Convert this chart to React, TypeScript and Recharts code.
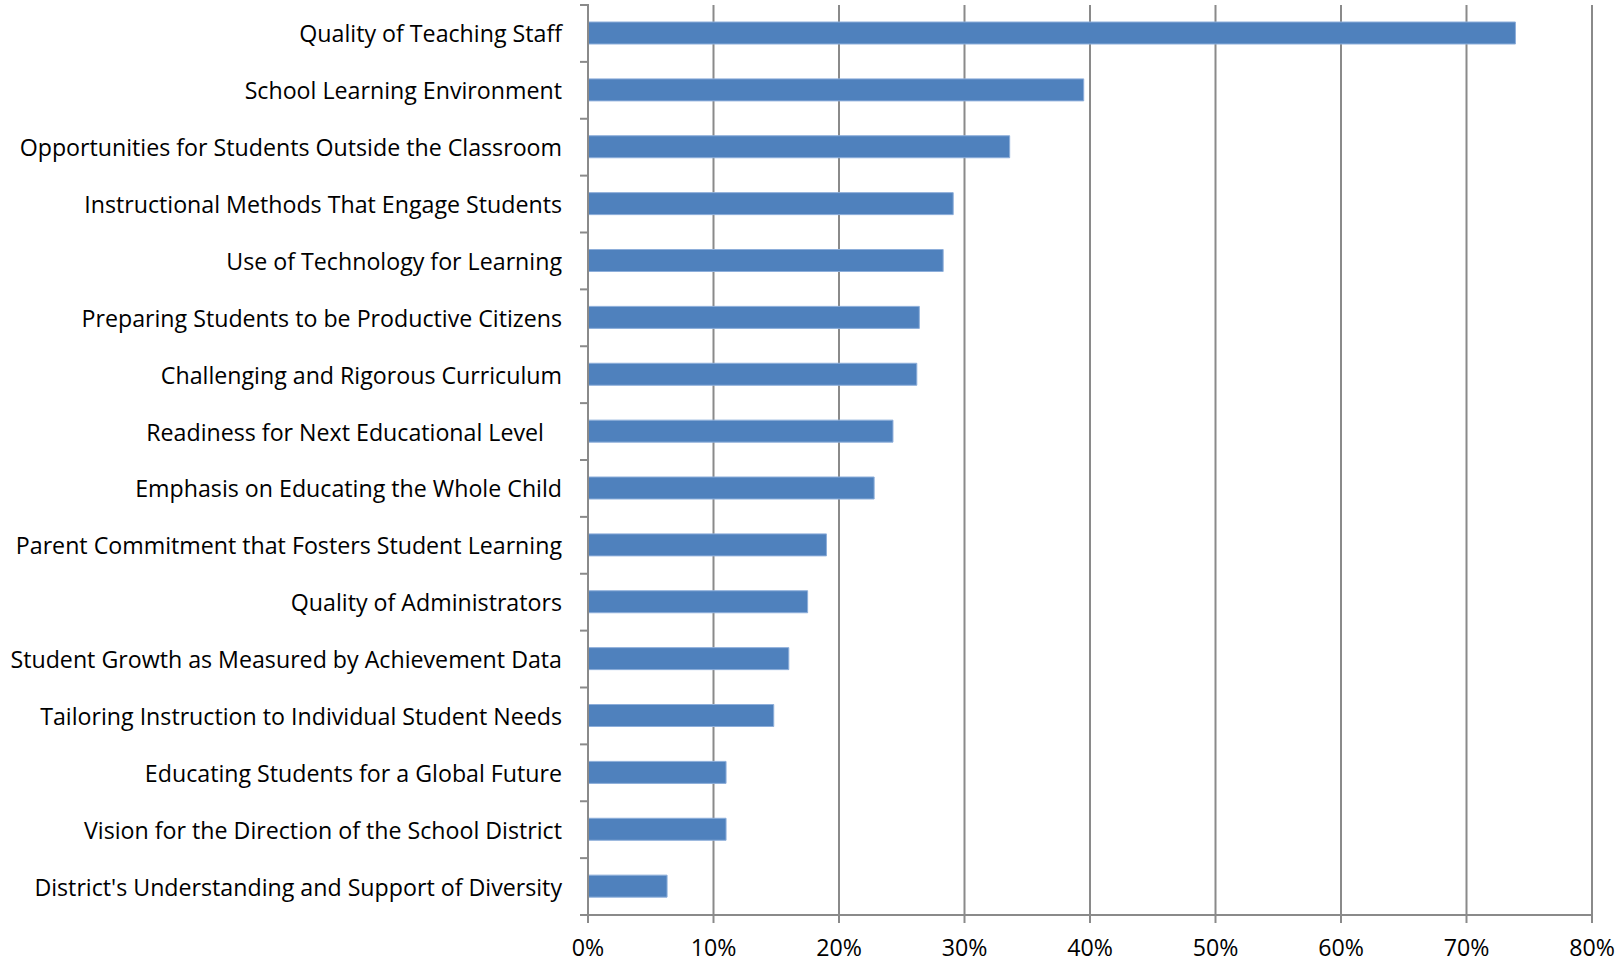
import React from 'react';
import { BarChart, Bar, XAxis, YAxis, CartesianGrid } from 'recharts';

const categories = [
  'Quality of Teaching Staff',
  'School Learning Environment',
  'Opportunities for Students Outside the Classroom',
  'Instructional Methods That Engage Students',
  'Use of Technology for Learning',
  'Preparing Students to be Productive Citizens',
  'Challenging and Rigorous Curriculum',
  'Readiness for Next Educational Level\u00A0\u00A0\u00A0',
  'Emphasis on Educating the Whole Child',
  'Parent Commitment that Fosters Student Learning',
  'Quality of Administrators',
  'Student Growth as Measured by Achievement Data',
  'Tailoring Instruction to Individual Student Needs',
  'Educating Students for a Global Future',
  'Vision for the Direction of the School District',
  "District's Understanding and Support of Diversity",
];

const values = [
  0.739, 0.395, 0.336, 0.291, 0.283, 0.264, 0.262, 0.243,
  0.228, 0.19, 0.175, 0.16, 0.148, 0.11, 0.11, 0.063,
];

const xTicks = [0, 0.1, 0.2, 0.3, 0.4, 0.5, 0.6, 0.7, 0.8];

const data = categories.map((name, i) => ({ name, value: values[i] }));

const GRAY = '#8a8a8a';
const FONT = "'Open Sans', sans-serif";
const FS = 23.2;

const YTick = (props: any) => {
  const { x, y, payload, index } = props;
  const half = typeof payload.offset === 'number' && payload.offset > 0 ? payload.offset : 28.4;
  const isLast = index === categories.length - 1;
  return (
    <g>
      <text
        x={x}
        y={y}
        textAnchor="end"
        dominantBaseline="central"
        fill="#000"
        fontFamily={FONT}
        fontSize={FS}
      >
        {payload.value}
      </text>
      <line x1={x + 18} x2={x + 27} y1={y - half} y2={y - half} stroke={GRAY} strokeWidth={2} />
      {isLast && (
        <line x1={x + 18} x2={x + 27} y1={y + half} y2={y + half} stroke={GRAY} strokeWidth={2} />
      )}
    </g>
  );
};

export default function App() {
  return (
    <div style={{ position: 'absolute', left: 0, top: 0, background: '#fff' }}>
      <BarChart
        width={1620}
        height={963}
        data={data}
        layout="vertical"
        margin={{ top: 5, right: 28, bottom: 0, left: 0 }}
      >
        <CartesianGrid horizontal={false} vertical={true} stroke={GRAY} strokeWidth={2} />
        <XAxis
          type="number"
          domain={[0, 0.8]}
          ticks={xTicks}
          interval={0}
          height={48}
          tickFormatter={(v: number) => `${Math.round(v * 100)}%`}
          axisLine={{ stroke: GRAY, strokeWidth: 2 }}
          tickLine={{ stroke: GRAY, strokeWidth: 2 }}
          tickSize={8}
          tickMargin={17}
          tick={{ fill: '#000', fontFamily: FONT, fontSize: FS }}
        />
        <YAxis
          type="category"
          dataKey="name"
          width={588}
          interval={0}
          axisLine={{ stroke: GRAY, strokeWidth: 2 }}
          tickLine={false}
          tickSize={8}
          tickMargin={18}
          tick={<YTick />}
        />
        <Bar
          dataKey="value"
          fill="#4F81BD"
          stroke="#8DAEDA"
          strokeWidth={1}
          barSize={22}
          isAnimationActive={false}
        />
      </BarChart>
    </div>
  );
}
